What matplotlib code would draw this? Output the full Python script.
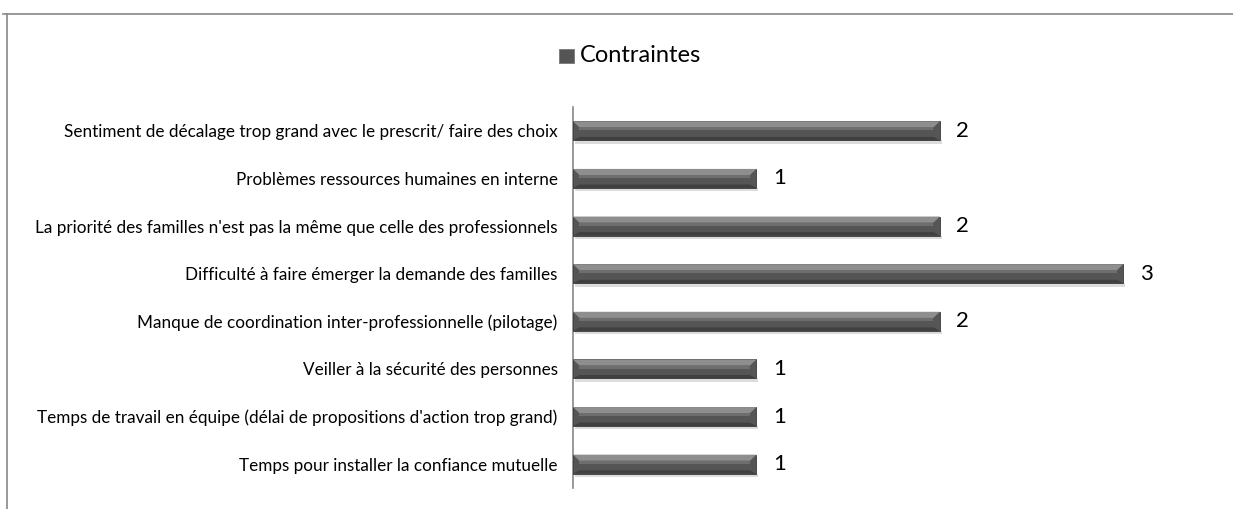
import matplotlib
matplotlib.use("Agg")
import matplotlib.pyplot as plt
from matplotlib.patches import Polygon, Rectangle
from matplotlib.lines import Line2D

categories = [
    "Temps pour installer la confiance mutuelle",
    "Temps de travail en équipe (délai de propositions d'action trop grand)",
    "Veiller à la sécurité des personnes",
    "Manque de coordination inter-professionnelle (pilotage)",
    "Difficulté à faire émerger la demande des familles",
    "La priorité des familles n'est pas la même que celle des professionnels",
    "Problèmes ressources humaines en interne",
    "Sentiment de décalage trop grand avec le prescrit/ faire des choix",
]
values = [1, 1, 1, 2, 3, 2, 1, 2]
series_name = "Contraintes"

plt.rcParams['font.family'] = ['Lato', 'DejaVu Sans']

W, H = 1233, 509
fig = plt.figure(figsize=(W / 100, H / 100), dpi=100)

# outer chart frame (top and left border)
fig.add_artist(Line2D([3 / W, 1.0], [1 - 14 / H, 1 - 14 / H], color="#888888", lw=1.2))
fig.add_artist(Line2D([7 / W, 7 / W], [1 - 14 / H, 0.0], color="#888888", lw=1.2))

left, right = 573 / W, 1215 / W
top, bottom = 1 - 107 / H, 1 - 488 / H
ax = fig.add_axes([left, bottom, right - left, top - bottom])

ypos = list(range(len(categories)))
bh = 0.40
ax.barh(ypos, values, height=bh, color="#555555", edgecolor="#3a3a3a", lw=0.6, zorder=3)

xmax = 3.5
ax.set_xlim(0, xmax)
ax.set_ylim(-0.5, len(categories) - 0.5)

# bevel / highlight and shadow
bev_x = 0.035
for y, v in zip(ypos, values):
    ax.add_patch(Rectangle((0.01, y - bh / 2 - 0.07), v, 0.07, color="#dcdcdc", zorder=2, lw=0))
    poly = [(0, y + bh / 2), (v, y + bh / 2), (v - bev_x, y + bh * 0.18), (bev_x, y + bh * 0.18)]
    ax.add_patch(Polygon(poly, closed=True, color="#8e8e8e", zorder=4, lw=0))
    poly2 = [(bev_x, y + bh * 0.18), (v - bev_x, y + bh * 0.18), (v - bev_x, y + bh * 0.02), (bev_x, y + bh * 0.02)]
    ax.add_patch(Polygon(poly2, closed=True, color="#6e6e6e", zorder=4, lw=0))
    poly3 = [(0, y - bh / 2), (v, y - bh / 2), (v - bev_x, y - bh * 0.32), (bev_x, y - bh * 0.32)]
    ax.add_patch(Polygon(poly3, closed=True, color="#404040", zorder=4, lw=0))
    ax.text(v + 0.09, y, str(v), va="center", ha="left", fontsize=16, color="#000000", zorder=5)

ax.set_yticks(ypos)
ax.set_yticklabels(categories, fontsize=12.3, color="#000000")
ax.tick_params(axis="y", length=0, pad=11)
ax.set_xticks([])
for s in ["top", "right", "bottom"]:
    ax.spines[s].set_visible(False)
ax.spines["left"].set_color("#888888")
ax.spines["left"].set_linewidth(1.2)

# legend
fig.add_artist(Rectangle((559 / W, 1 - 63 / H), 15 / W, 14 / H, transform=fig.transFigure,
                         facecolor="#555555", edgecolor="#777777", lw=0.6))
fig.text(580 / W, 1 - 55 / H, series_name, fontsize=17, va="center", ha="left", color="#000000")

fig.savefig("out.png", dpi=100, facecolor="white")
